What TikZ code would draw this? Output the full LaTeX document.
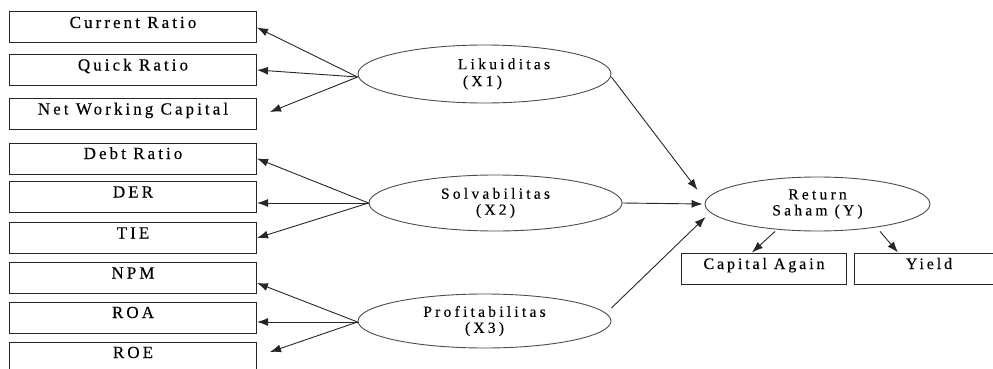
\documentclass[tikz,border=0pt]{standalone}
\usepackage{fontspec}
\setmainfont{Liberation Serif}[LetterSpace=18,FakeBold=0.25]
\newfontfamily\ovalfont{Liberation Serif}[LetterSpace=21,FakeBold=0.25]
\usetikzlibrary{arrows.meta,shapes.geometric}
\begin{document}
\begin{tikzpicture}[x=1pt,y=-1pt,
  box/.style={draw=black!85,line width=1pt,minimum width=247pt,text height=11pt,text depth=10pt,inner ysep=5pt,inner xsep=2pt,font=\fontsize{17}{18}\selectfont},
  oval/.style={ellipse,draw=black!70,line width=0.9pt,inner sep=0pt,align=center,font=\ovalfont\fontsize{15.5}{16}\selectfont},
  arr/.style={draw=black!85,line width=0.9pt,-{Latex[length=11pt,width=8pt]}}]
\useasboundingbox (0,0) rectangle (993,369);
\clip (0,0) rectangle (993,369);
% indicator boxes
\node[box] (CR) at (133,27.5) {Current Ratio};
\node[box] (QR) at (133,70) {Quick Ratio};
\node[box] (NWC) at (133,114) {Net Working Capital};
\node[box] (DR) at (133,158.5) {Debt Ratio};
\node[box] (DER) at (133,197) {DER};
\node[box] (TIE) at (133,238) {TIE};
\node[box] (NPM) at (133,278) {NPM};
\node[box] (ROA) at (133,317.5) {ROA};
\node[box] (ROE) at (133,357.5) {ROE};
% latent variables
\node[oval,minimum width=253pt,minimum height=58pt,
  label={[align=left,xshift=19.5pt,font=\ovalfont\fontsize{15.5}{17}\selectfont]center:Likuiditas\\\hspace*{5pt}(X1)}] (X1) at (484.5,74) {};
\node[oval,minimum width=253pt,minimum height=56pt] (X2) at (495.5,203) {Solvabilitas\\(X2)};
\node[oval,minimum width=253pt,minimum height=54pt] (X3) at (484.5,321) {Profitabilitas\\(X3)};
\node[oval,minimum width=225pt,minimum height=54pt] (Y) at (817.5,204) {Return\\Saham (Y)};
\node[box,minimum width=165pt,font=\fontsize{16}{17}\selectfont] (CA) at (764,268.5) {Capital Again};
\node[box,minimum width=150pt,font=\fontsize{16}{17}\selectfont] (YD) at (929,268.5) {Yield};
% arrows to indicators
\draw[arr] ([yshift=-3pt]X1.west) -- (CR.east);
\draw[arr] ([yshift=-3pt]X1.west) -- (QR.east);
\draw[arr] ([yshift=-3pt]X1.west) -- ([xshift=13pt,yshift=2pt]NWC.east);
\draw[arr] (X2.west) -- (DR.east);
\draw[arr] (X2.west) -- (X2.west -| DER.east);
\draw[arr] (X2.west) -- (TIE.east);
\draw[arr] ([yshift=-1pt]X3.west) -- ([yshift=-5pt]NPM.east);
\draw[arr] ([yshift=-1pt]X3.west) -- ([yshift=-1pt]X3.west -| ROA.east);
\draw[arr] ([yshift=-1pt]X3.west) -- ([xshift=13pt,yshift=5.5pt]ROE.east);
% arrows to return
\draw[arr] ([yshift=-3pt]X1.east) -- ([xshift=-7pt,yshift=14pt]Y.west);
\draw[arr] (X2.east) -- ([xshift=-2pt]Y.west);
\draw[arr] ([yshift=13pt]X3.east) -- ([xshift=1pt,yshift=-13pt]Y.west);
\draw[arr] ([xshift=-42.5pt]Y.south) -- ([xshift=-12pt]CA.north);
\draw[arr] ([xshift=62.5pt]Y.south) -- ([xshift=-31pt]YD.north);
\end{tikzpicture}
\end{document}
